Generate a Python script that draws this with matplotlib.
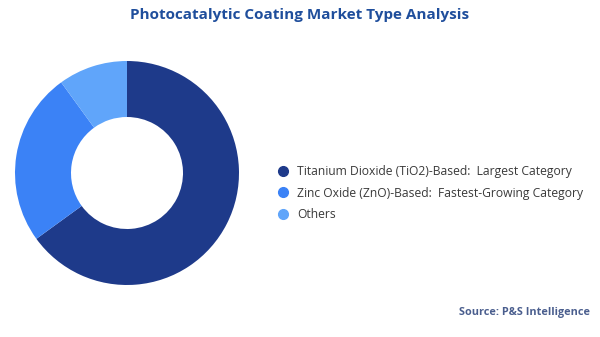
import matplotlib
matplotlib.use("Agg")
import matplotlib.pyplot as plt
from matplotlib.lines import Line2D

# data
categories = ["Titanium Dioxide (TiO2)-Based:  Largest Category",
              "Zinc Oxide (ZnO)-Based:  Fastest-Growing Category",
              "Others"]
shares = [65, 25, 10]
colors = ["#1E3A8A", "#3B82F6", "#60A5FA"]

plt.rcParams["font.family"] = ["Open Sans", "DejaVu Sans"]

fig = plt.figure(figsize=(6, 3.37), dpi=100)
fig.patch.set_facecolor("white")

ax = fig.add_axes([15 / 600, 52 / 337, 224 / 600, 224 / 337])
ax.pie(shares, colors=colors, startangle=90, counterclock=False,
       radius=1.0, wedgeprops=dict(width=0.5, edgecolor="none"))
ax.set_xlim(-1, 1)
ax.set_ylim(-1, 1)
ax.set_aspect("equal")
ax.axis("off")

fig.text(0.5, 1 - 15 / 337, "Photocatalytic Coating Market Type Analysis",
         ha="center", va="center", fontsize=11, fontweight="bold",
         color="#1F4E9C")

handles = [Line2D([0], [0], marker="o", linestyle="none", markersize=7,
                  markerfacecolor=c, markeredgecolor=c) for c in colors]
fig.legend(handles, categories, loc="center left",
           bbox_to_anchor=(272 / 600, 1 - 193 / 337), frameon=False,
           fontsize=8.7, labelcolor="#3a3a3a", handletextpad=0.6,
           labelspacing=0.72, borderaxespad=0, handlelength=1.1)

fig.text(1 - 10 / 600, 1 - 312 / 337, "Source: P&S Intelligence",
         ha="right", va="center", fontsize=7.8, fontweight="bold",
         color="#4A5E8E")

fig.savefig("out.png", dpi=100, facecolor="white")
